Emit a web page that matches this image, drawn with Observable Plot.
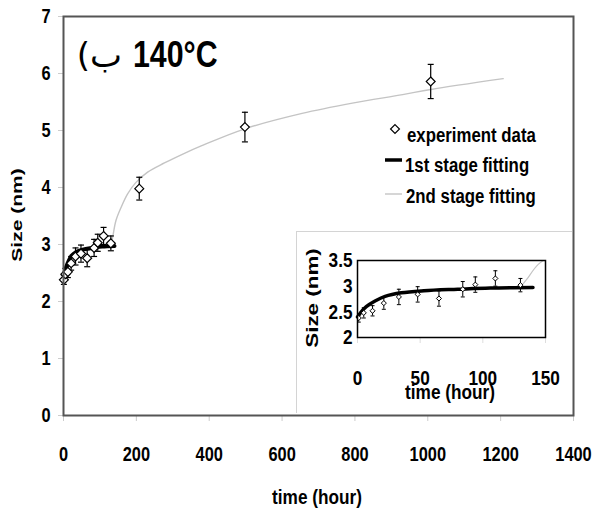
<!DOCTYPE html>
<html><head><meta charset="utf-8">
<script src="https://cdn.jsdelivr.net/npm/d3@7"></script>
<script src="https://cdn.jsdelivr.net/npm/@observablehq/plot@0.6"></script>
<style>
body{margin:0;background:#fff;}
#wrap{position:relative;width:592px;height:510px;overflow:hidden;}
</style></head><body><div id="wrap"></div>
<script>
// experiment data (time in hours, size in nm, error bar half-height)
const expT    = [1, 5, 12, 21, 33, 48, 65, 84, 94, 110, 130, 208, 498, 1008];
const expSize = [2.38, 2.48, 2.52, 2.67, 2.79, 2.84, 2.76, 2.94, 3.03, 3.15, 3.02, 3.98, 5.06, 5.86];
const expErr  = [0.08, 0.1, 0.1, 0.12, 0.15, 0.15, 0.15, 0.15, 0.15, 0.15, 0.13, 0.2, 0.26, 0.3];
// 1st stage fitting curve
const fit1T = [0, 3, 7, 14, 22, 35, 53, 80, 106, 140];
const fit1S = [2.40, 2.50, 2.60, 2.71, 2.80, 2.87, 2.91, 2.94, 2.965, 2.975];
// 2nd stage fitting curve
const fit2T = [130, 135, 144, 158, 176, 199, 231, 277, 332, 378, 498, 655, 793, 931, 1008, 1207];
const fit2S = [2.98, 3.13, 3.42, 3.65, 3.89, 4.09, 4.27, 4.43, 4.60, 4.73, 5.03, 5.30, 5.48, 5.63, 5.72, 5.91];
// ticks
const xTicks = [0, 200, 400, 600, 800, 1000, 1200, 1400];
const yTicks = [0, 1, 2, 3, 4, 5, 6, 7];
const insetXTicks = [0, 50, 100, 150];
const insetYTicks = [2, 2.5, 3, 3.5];
// texts
const titleArabic = "(ب";
const titleTemp = "140°C";
const xLabel = "time (hour)";
const yLabel = "Size (nm)";
const legendLabels = ["experiment data", "1st stage fitting", "2nd stage fitting"];

const exp = expT.map((t, i) => ({t, s: expSize[i], e: expErr[i]}));
const fit1 = fit1T.map((t, i) => ({t, s: fit1S[i]}));
const fit2 = fit2T.map((t, i) => ({t, s: fit2S[i]}));

const sans = '"Liberation Sans",Arial,sans-serif';
const K = 0.82; // horizontal condensing (narrow face look)
const cap = {draw(ctx, size) { const r = Math.sqrt(size / Math.PI); ctx.moveTo(-r, 0); ctx.lineTo(r, 0); }};

function condense(svg) {
  svg.querySelectorAll("text").forEach(t => {
    const tr = t.getAttribute("transform") || "";
    t.setAttribute("transform", `${tr} scale(${K},1)`);
  });
}
function label(sel, x, y, txt, size, anchor) {
  return sel.append("text").attr("transform", `translate(${x},${y}) scale(${K},1)`)
    .attr("text-anchor", anchor || "start").attr("font-size", size).attr("fill", "black").text(txt);
}

const main = Plot.plot({
  width: 592, height: 510,
  marginLeft: 63, marginRight: 19, marginTop: 16, marginBottom: 95,
  style: {fontFamily: sans, fontWeight: "bold", fontSize: "20px", background: "white", color: "black"},
  x: {domain: [0, 1400]},
  y: {domain: [0, 7]},
  marks: [
    Plot.axisX({ticks: xTicks, tickSize: 6, tickPadding: 25, stroke: "#ccc", fill: "black", label: null, tickFormat: d => String(d)}),
    Plot.axisY({ticks: yTicks, tickSize: 5, tickPadding: 8, stroke: "#ccc", fill: "black", label: null, tickFormat: d => String(d)}),
    Plot.line(fit2, {x: "t", y: "s", stroke: "#c4c4c4", strokeWidth: 1.4, curve: "catmull-rom"}),
    Plot.line(fit1, {x: "t", y: "s", stroke: "black", strokeWidth: 4, curve: "catmull-rom"}),
    Plot.ruleX(exp, {x: "t", y1: d => d.s - d.e, y2: d => d.s + d.e, stroke: "black", strokeWidth: 1.2}),
    Plot.dot(exp, {x: "t", y: d => d.s + d.e, symbol: cap, r: 3, fill: "none", stroke: "black", strokeWidth: 1.2}),
    Plot.dot(exp, {x: "t", y: d => d.s - d.e, symbol: cap, r: 3, fill: "none", stroke: "black", strokeWidth: 1.2}),
    Plot.dot(exp, {x: "t", y: "s", symbol: "diamond2", r: 4, fill: "white", stroke: "black", strokeWidth: 1.2}),
    Plot.frame({stroke: "#555", strokeWidth: 2})
  ]
});
condense(main);

const ms = d3.select(main);
// title
ms.append("text").attr("x", 122).attr("y", 67).attr("text-anchor", "end")
  .attr("font-family", '"DejaVu Sans","Noto Sans",sans-serif').attr("font-weight", "normal")
  .attr("font-size", 34).attr("fill", "black").text(titleArabic);
label(ms, 133, 67, titleTemp, 37);
// axis titles
label(ms, 317, 504, xLabel, 21, "middle");
ms.append("text").attr("transform", "translate(21.5,215) rotate(-90) scale(1.4,1)")
  .attr("text-anchor", "middle").attr("font-size", 15).attr("fill", "black").text(yLabel);
// legend
const lg = ms.append("g");
lg.append("path").attr("transform", "translate(395,129)")
  .attr("d", d3.symbol(d3.symbolDiamond2, 16 * Math.PI)()).attr("fill", "white").attr("stroke", "black").attr("stroke-width", 1.2);
lg.append("line").attr("x1", 385).attr("x2", 402).attr("y1", 160).attr("y2", 160).attr("stroke", "black").attr("stroke-width", 3.5);
lg.append("line").attr("x1", 385).attr("x2", 402).attr("y1", 194).attr("y2", 194).attr("stroke", "#c4c4c4").attr("stroke-width", 1.4);
[[407, 142], [405, 172], [406, 203]].forEach(([x, y], i) => label(lg, x, y, legendLabels[i], 20.5));

const inset = Plot.plot({
  width: 275, height: 181,
  marginLeft: 60, marginRight: 27, marginTop: 28, marginBottom: 76,
  style: {fontFamily: sans, fontWeight: "bold", fontSize: "21px", background: "white", color: "black"},
  x: {domain: [0, 150]},
  y: {domain: [2, 3.5]},
  marks: [
    Plot.axisX({ticks: insetXTicks, tickSize: 6, tickPadding: 27, stroke: "#ddd", fill: "black", label: null, tickFormat: d => String(d)}),
    Plot.axisY({ticks: insetYTicks, tickSize: 0, tickPadding: 5, fill: "black", label: null, tickFormat: d => String(d)}),
    Plot.line(fit2, {x: "t", y: "s", stroke: "#c4c4c4", strokeWidth: 1.2, curve: "catmull-rom", clip: true}),
    Plot.line(fit1, {x: "t", y: "s", stroke: "black", strokeWidth: 3.5, curve: "catmull-rom"}),
    Plot.ruleX(exp, {x: "t", y1: d => d.s - d.e, y2: d => d.s + d.e, stroke: "black", strokeWidth: 1, clip: true}),
    Plot.dot(exp, {x: "t", y: d => d.s + d.e, symbol: cap, r: 2, fill: "none", stroke: "black", strokeWidth: 1, clip: true}),
    Plot.dot(exp, {x: "t", y: d => d.s - d.e, symbol: cap, r: 2, fill: "none", stroke: "black", strokeWidth: 1, clip: true}),
    Plot.dot(exp, {x: "t", y: "s", symbol: "diamond2", r: 2.3, fill: "white", stroke: "black", strokeWidth: 1, clip: true}),
    Plot.frame({stroke: "black", strokeWidth: 1.5})
  ]
});
condense(inset);
const is = d3.select(inset);
label(is, 153, 167, xLabel, 21, "middle");
is.append("text").attr("transform", "translate(21,66) rotate(-90) scale(1.4,1)")
  .attr("text-anchor", "middle").attr("font-size", 16).attr("fill", "black").text(yLabel);

inset.style.position = "absolute";
inset.style.left = "296px";
inset.style.top = "231px";
inset.style.borderTop = "1px solid #d4d4d4";
inset.style.borderLeft = "1px solid #d4d4d4";

const wrap = document.getElementById("wrap");
wrap.appendChild(main);
wrap.appendChild(inset);
</script></body></html>
